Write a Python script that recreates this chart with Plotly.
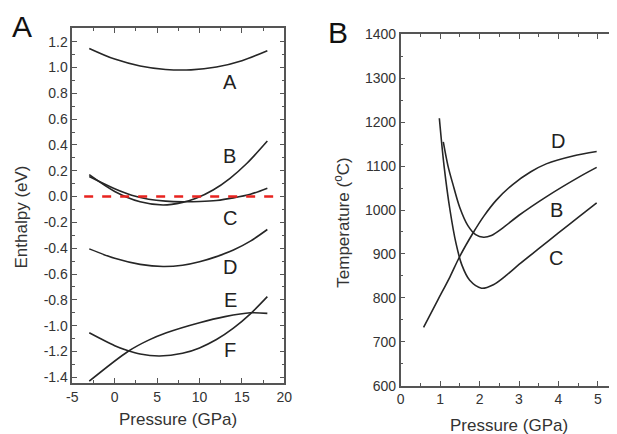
import plotly.graph_objects as go

# The page body has an 8px margin, so the figure is sized to fill the 617x434 window exactly.
OFF = 8
W, H = 617 - OFF, 434 - OFF


def fx(px):
    return (px - OFF) / W


def fy(py):
    return 1 - (py - OFF) / H


# ---------------- Panel A data (Pressure GPa vs Enthalpy eV) ----------------
pA_A = [-3, 0, 3, 6, 9, 12, 15, 18]
eA_A = [1.148, 1.065, 1.012, 0.985, 0.982, 1.004, 1.053, 1.13]

pA_B = [-3, 0, 3, 5.7, 8, 9.6, 11.6, 13.6, 15.6, 18]
eA_B = [0.17, 0.04, -0.04, -0.065, -0.045, -0.013, 0.051, 0.142, 0.258, 0.43]

pA_C = [-3, 0, 2, 4, 6, 8, 10, 12, 14, 16, 18]
eA_C = [0.155, 0.06, 0.01, -0.02, -0.035, -0.04, -0.038, -0.03, -0.01, 0.018, 0.065]

pA_D = [-3, 0, 3, 5.7, 8, 10, 12, 14, 16, 18]
eA_D = [-0.405, -0.478, -0.525, -0.542, -0.532, -0.505, -0.465, -0.414, -0.345, -0.255]

pA_E = [-3, 1.6, 4, 6.1, 10, 13, 16, 18]
eA_E = [-1.43, -1.198, -1.112, -1.055, -0.977, -0.93, -0.9, -0.905]

pA_F = [-3, 0, 1.5, 3, 5.3, 8, 10, 12, 14, 16, 18]
eA_F = [-1.055, -1.155, -1.192, -1.22, -1.235, -1.214, -1.172, -1.107, -1.019, -0.908, -0.775]

ref_p = [-3.6, 19.5]
ref_e = [0.0, 0.0]

labA_text = ["A", "B", "C", "D", "E", "F"]
labA_p = [13.6, 13.5, 13.6, 13.6, 13.6, 13.6]
labA_e = [0.89, 0.314, -0.168, -0.548, -0.80, -1.188]

xA_ticks = [-5, 0, 5, 10, 15, 20]
xA_text = ["-5", "0", "5", "10", "15", "20"]
yA_ticks = [-1.4, -1.2, -1.0, -0.8, -0.6, -0.4, -0.2, 0.0, 0.2, 0.4, 0.6, 0.8, 1.0, 1.2]
yA_text = ["-1.4", "-1.2", "-1.0", "-0.8", "-0.6", "-0.4", "-0.2", "0.0",
           "0.2", "0.4", "0.6", "0.8", "1.0", "1.2"]

# ---------------- Panel B data (Pressure GPa vs Temperature C) ----------------
pB_D = [0.58, 0.94, 1.25, 1.49, 1.83, 2.1, 2.42, 2.84, 3.3, 3.69, 4.37, 4.97]
tB_D = [733, 795, 848, 893, 947, 985, 1022, 1058, 1087, 1105, 1123, 1133]

pB_B = [1.08, 1.2, 1.32, 1.5, 1.7, 1.9, 2.1, 2.3, 2.6, 3.0, 3.69, 4.54, 4.97]
tB_B = [1155, 1100, 1060, 1005, 965, 944, 938, 942, 960, 988, 1030, 1076, 1097]

pB_C = [0.98, 1.1, 1.25, 1.4, 1.55, 1.75, 2.05, 2.35, 2.7, 3.0, 3.5, 4.0, 4.5, 4.97]
tB_C = [1209, 1100, 1000, 925, 875, 840, 822, 830, 853, 876, 912, 948, 983, 1016]

labB_text = ["D", "B", "C"]
labB_p = [4.0, 3.94, 3.94]
labB_t = [1157, 1000, 890]

# ---------------- Figure ----------------
LINE = dict(color="#262626", width=1.6)
fig = go.Figure()

for px_, py_ in [(pA_A, eA_A), (pA_B, eA_B), (pA_C, eA_C), (pA_D, eA_D), (pA_E, eA_E), (pA_F, eA_F)]:
    fig.add_trace(go.Scatter(x=px_, y=py_, mode="lines", line=dict(shape="spline", smoothing=0.9, **LINE),
                             xaxis="x", yaxis="y", showlegend=False, hoverinfo="skip"))
fig.add_trace(go.Scatter(x=ref_p, y=ref_e, mode="lines",
                         line=dict(color="#e8231f", width=2.5, dash="dash"),
                         xaxis="x", yaxis="y", showlegend=False, hoverinfo="skip"))

for px_, py_ in [(pB_D, tB_D), (pB_B, tB_B), (pB_C, tB_C)]:
    fig.add_trace(go.Scatter(x=px_, y=py_, mode="lines", line=dict(shape="spline", smoothing=0.9, **LINE),
                             xaxis="x2", yaxis="y2", showlegend=False, hoverinfo="skip"))

FONT = "Liberation Sans, Arial, sans-serif"
TICKFONT = dict(family=FONT, size=14, color="#333333")
axis_common = dict(showline=True, linecolor="#555555", linewidth=1.5, mirror="ticks",
                   ticks="inside", ticklen=5, tickwidth=1.3, tickcolor="#555555",
                   showgrid=False, zeroline=False, tickfont=TICKFONT, automargin=False)

fig.update_layout(
    template="none",
    width=W, height=H, margin=dict(l=0, r=0, t=0, b=0, pad=0), autosize=False,
    paper_bgcolor="white", plot_bgcolor="white",
    xaxis=dict(domain=[fx(72.3), fx(284.3)], range=[-5, 20], anchor="y",
               tickmode="array", tickvals=xA_ticks, ticktext=xA_text,
               minor=dict(ticks="inside", dtick=2.5, ticklen=3, tickcolor="#555555"),
               **axis_common),
    yaxis=dict(domain=[fy(383), fy(28)], range=[-1.444, 1.306], anchor="x",
               tickmode="array", tickvals=yA_ticks, ticktext=yA_text,
               minor=dict(ticks="inside", dtick=0.1, tick0=0, ticklen=3, tickcolor="#555555"),
               **axis_common),
    xaxis2=dict(domain=[fx(400.7), fx(616.0)], range=[0, 5.46], anchor="y2",
                dtick=1, tick0=0,
                minor=dict(ticks="inside", dtick=0.5, ticklen=3, tickcolor="#555555"),
                **axis_common),
    yaxis2=dict(domain=[fy(385.7), fy(34.3)], range=[600, 1400], anchor="x2",
                dtick=100, tick0=600,
                minor=dict(ticks="inside", dtick=50, ticklen=3, tickcolor="#555555"),
                **axis_common),
)

ann = []
for t, xx, yy in zip(labA_text, labA_p, labA_e):
    ann.append(dict(x=xx, y=yy, xref="x", yref="y", text=t, showarrow=False,
                    xanchor="center", yanchor="middle",
                    font=dict(family=FONT, size=20, color="#222222")))
for t, xx, yy in zip(labB_text, labB_p, labB_t):
    ann.append(dict(x=xx, y=yy, xref="x2", yref="y2", text=t, showarrow=False,
                    xanchor="center", yanchor="middle",
                    font=dict(family=FONT, size=20, color="#222222")))

TITLEFONT = dict(family=FONT, size=17, color="#333333")
CM = dict(xref="paper", yref="paper", showarrow=False, xanchor="center", yanchor="middle")
ann += [
    dict(x=fx(21), y=fy(217.5), text="Enthalpy (eV)", textangle=-90, font=TITLEFONT, **CM),
    dict(x=fx(341.7), y=fy(223), text="Temperature (<sup>o</sup>C)", textangle=-90, font=TITLEFONT, **CM),
    dict(x=fx(177.5), y=fy(419), text="Pressure (GPa)", font=TITLEFONT, **CM),
    dict(x=fx(509), y=fy(425), text="Pressure (GPa)", font=TITLEFONT, **CM),
    dict(x=fx(22), y=fy(27), text="A", font=dict(family=FONT, size=30, color="#111111"), **CM),
    dict(x=fx(338), y=fy(33), text="B", font=dict(family=FONT, size=30, color="#111111"), **CM),
]
fig.update_layout(annotations=ann)

fig.write_html("out.html")
